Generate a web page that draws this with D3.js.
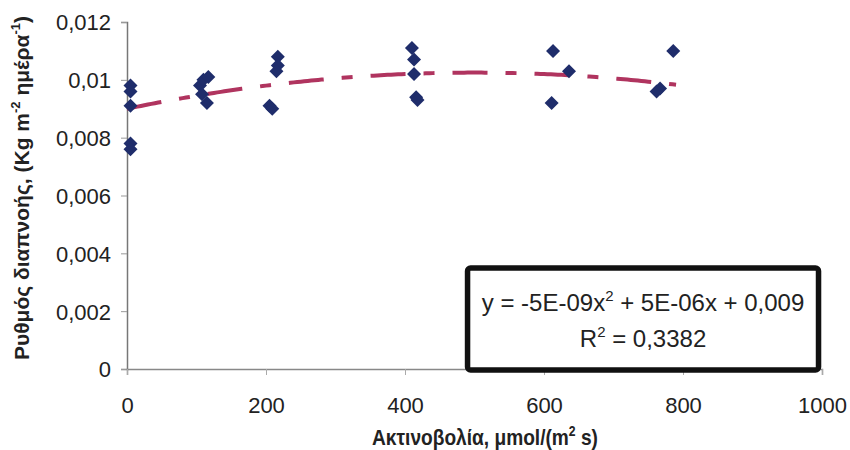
<!DOCTYPE html>
<html><head><meta charset="utf-8">
<script src="https://cdn.jsdelivr.net/npm/d3@7"></script>
<style>body{margin:0;background:#fff}svg{display:block}</style>
</head><body>
<script>
const xValues = [5,5,5,5,5, 105,110,117,108,115, 217,217,215,205,209, 410,413,413,416,418, 613,611,636, 786,767,762];
const yValues = [0.0098,0.0096,0.0091,0.0078,0.0076, 0.0098,0.0100,0.0101,0.0095,0.0092, 0.0108,0.0105,0.0103,0.0091,0.0090, 0.0111,0.0107,0.0102,0.0094,0.0093, 0.0110,0.0092,0.0103, 0.0110,0.0097,0.0096];
const xTicks = [0,200,400,600,800,1000];
const yTicks = [0,0.002,0.004,0.006,0.008,0.01,0.012];
const yTickLabels = ["0","0,002","0,004","0,006","0,008","0,01","0,012"];
const trendCoef = [0.009, 5e-6, -5e-9];
const eqLine1 = "y = -5E-09x";
const eqLine1b = " + 5E-06x + 0,009";
const eqLine2 = "R";
const eqLine2b = " = 0,3382";

const W=850,H=450;
const svg=d3.select("body").append("svg").attr("width",W).attr("height",H);
const x=d3.scaleLinear().domain([0,1000]).range([127,822]);
const y=d3.scaleLinear().domain([0,0.012]).range([369,22]);
const font="'Liberation Sans', Arial, sans-serif";

// axes
const yAx=svg.append("g").attr("transform","translate(127,0)")
 .call(d3.axisLeft(y).tickValues(yTicks).tickSize(6).tickFormat((d,i)=>yTickLabels[i]));
yAx.select(".domain").attr("stroke","#777").attr("stroke-width",1.5);
yAx.selectAll("line").attr("stroke","#999");
yAx.selectAll("text").attr("font-family",font).attr("font-size",22).attr("fill","#222").attr("x",-16).attr("dy","0.36em");
const xAx=svg.append("g").attr("transform","translate(0,369)")
 .call(d3.axisBottom(x).tickValues(xTicks).tickSize(6).tickFormat(d3.format("d")));
xAx.select(".domain").attr("stroke","#888").attr("stroke-width",1.5);
xAx.selectAll("line").attr("stroke","#aaa");
xAx.selectAll("text").attr("font-family",font).attr("font-size",22).attr("fill","#222").attr("y",44).attr("dy","0");

// trend line
const tx=d3.range(0,791,5);
const line=d3.line().x(d=>x(d)).y(d=>y(trendCoef[0]+trendCoef[1]*d+trendCoef[2]*d*d));
svg.append("path").datum(tx).attr("d",line).attr("fill","none")
 .attr("stroke","#B0345F").attr("stroke-width",4).attr("stroke-dasharray","35,18,11,18");

// points
const pts=xValues.map((v,i)=>[v,yValues[i]]);
svg.append("g").selectAll("path").data(pts).join("path")
 .attr("d",d=>{const cx=x(d[0]),cy=y(d[1]),r=7;return `M${cx},${cy-r}L${cx+r},${cy}L${cx},${cy+r}L${cx-r},${cy}Z`;})
 .attr("fill","#1F2D6B");

// equation box
svg.append("rect").attr("x",x(490)).attr("y",268).attr("width",x(995)-x(490)).attr("height",102)
 .attr("rx",3).attr("fill","#fff").attr("stroke","#111").attr("stroke-width",5.5);
const cx=(x(490)+x(995))/2;
const t1=svg.append("text").attr("x",cx).attr("y",311).attr("text-anchor","middle").attr("font-family",font).attr("font-size",24).attr("fill","#222");
t1.append("tspan").text(eqLine1);
t1.append("tspan").text("2").attr("font-size",15).attr("dy",-10);
t1.append("tspan").text(eqLine1b).attr("dy",10);
const t2=svg.append("text").attr("x",cx).attr("y",347).attr("text-anchor","middle").attr("font-family",font).attr("font-size",24).attr("fill","#222");
t2.append("tspan").text(eqLine2);
t2.append("tspan").text("2").attr("font-size",15).attr("dy",-10);
t2.append("tspan").text(eqLine2b).attr("dy",10);

// axis titles
const xt=svg.append("text").attr("transform","translate(485,445) scale(0.87,1)").attr("text-anchor","middle")
 .attr("font-family",font).attr("font-weight","bold").attr("font-size",22).attr("fill","#222");
xt.append("tspan").text("Ακτινοβολία, μmol/(m");
xt.append("tspan").text("2").attr("font-size",14).attr("dy",-9);
xt.append("tspan").text(" s)").attr("dy",9);
const yt=svg.append("text").attr("transform","translate(29,188) rotate(-90)").attr("text-anchor","middle")
 .attr("font-family",font).attr("font-weight","bold").attr("font-size",21).attr("fill","#222");
yt.append("tspan").text("Ρυθμός διαπνοής, (Kg m");
yt.append("tspan").text("-2").attr("font-size",13).attr("dy",-9);
yt.append("tspan").text(" ημέρα").attr("dy",9);
yt.append("tspan").text("-1").attr("font-size",13).attr("dy",-9);
yt.append("tspan").text(")").attr("dy",9);
</script>
</body></html>
